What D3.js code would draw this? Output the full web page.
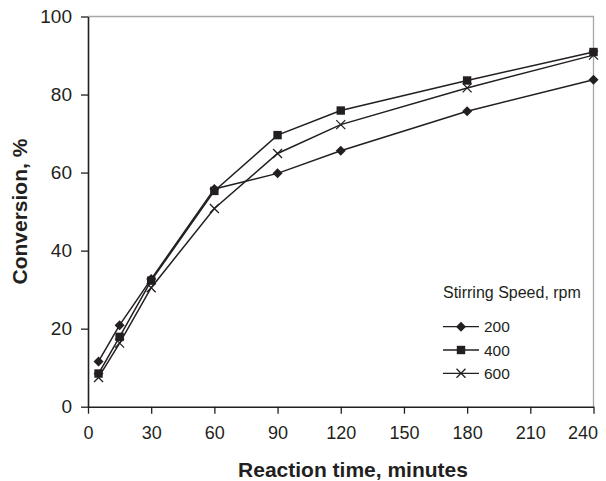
<!DOCTYPE html>
<html><head><meta charset="utf-8">
<script src="https://cdn.jsdelivr.net/npm/d3@7"></script>
<style>body{margin:0;background:#fff}svg{display:block}text{font-family:Arial,"Liberation Sans",sans-serif;fill:#231f20}</style>
</head><body><svg id="c" width="606" height="481"></svg>
<script>
const times = [5, 15, 30, 60, 90, 120, 180, 240];
const rpm200 = [11.6, 20.9, 32.7, 55.8, 59.8, 65.6, 75.7, 83.8];
const rpm400 = [8.5, 17.9, 32.3, 55.3, 69.6, 75.9, 83.6, 90.9];
const rpm600 = [7.5, 16.3, 30.5, 50.8, 64.9, 72.3, 81.7, 90.1];
const seriesNames = ["200", "400", "600"];
const xTicks = [0, 30, 60, 90, 120, 150, 180, 210, 240];
const yTicks = [0, 20, 40, 60, 80, 100];

const series = [
  {name: seriesNames[0], values: rpm200, marker: "diamond"},
  {name: seriesNames[1], values: rpm400, marker: "square"},
  {name: seriesNames[2], values: rpm600, marker: "cross"}
];

const svg = d3.select("#c");
const L = 88, R = 593.5, T = 16.5, B = 406.7;
const x = d3.scaleLinear().domain([0, 240]).range([L, R]);
const y = d3.scaleLinear().domain([0, 100]).range([B, T]);
const ink = "#231f20";

// frame top/right (grey)
svg.append("path").attr("d", `M${L},${T}H${R}V${B}`).attr("fill","none").attr("stroke","#a6a6a6").attr("stroke-width",1.3);

const xa = svg.append("g").attr("transform", `translate(0,${B})`)
  .call(d3.axisBottom(x).tickValues(xTicks).tickSize(7).tickSizeOuter(0).tickPadding(13));
const ya = svg.append("g").attr("transform", `translate(${L},0)`)
  .call(d3.axisLeft(y).tickValues(yTicks).tickSize(7).tickSizeOuter(0).tickPadding(9));
[xa, ya].forEach(a => {
  a.select(".domain").attr("stroke", ink).attr("stroke-width", 1.6);
  a.selectAll(".tick line").attr("stroke", ink).attr("stroke-width", 1.3);
  a.selectAll(".tick text").attr("fill", ink).style("font-family","Arial, 'Liberation Sans', sans-serif");
});
ya.selectAll(".tick text").attr("font-size", 19);
xa.selectAll(".tick text").attr("font-size", 18);
// keep last x label inside the picture
xa.selectAll(".tick text").filter(d => d === 240).attr("text-anchor", "end").attr("x", 4);

svg.append("text").attr("x", 353).attr("y", 476.5).attr("text-anchor","middle")
  .attr("font-size", 21).attr("font-weight","bold").text("Reaction time, minutes");
svg.append("text").attr("transform", `translate(27,${(T+B)/2}) rotate(-90)`).attr("text-anchor","middle")
  .attr("font-size", 21).attr("font-weight","bold").text("Conversion, %");

const line = d3.line().x((d,i) => x(times[i])).y(d => y(d));

function drawMarker(g, type, cx, cy) {
  if (type === "diamond") {
    g.append("path").attr("d", `M${cx},${cy-5}L${cx+5},${cy}L${cx},${cy+5}L${cx-5},${cy}Z`).attr("fill", ink);
  } else if (type === "square") {
    g.append("rect").attr("x", cx-4.2).attr("y", cy-4.2).attr("width", 8.4).attr("height", 8.4).attr("fill", ink);
  } else {
    const s = 4.5;
    g.append("path").attr("d", `M${cx-s},${cy-s}L${cx+s},${cy+s}M${cx-s},${cy+s}L${cx+s},${cy-s}`).attr("stroke", ink).attr("stroke-width", 1.3);
  }
}

series.forEach(s => {
  svg.append("path").datum(s.values).attr("d", line).attr("fill","none").attr("stroke", ink).attr("stroke-width", 1.5);
  const g = svg.append("g");
  s.values.forEach((v,i) => drawMarker(g, s.marker, x(times[i]), y(v)));
});

// legend
svg.append("text").attr("x", 443).attr("y", 298).attr("font-size", 16).text("Stirring Speed, rpm");
const ly = [326.7, 350, 373.3];
series.forEach((s,i) => {
  const g = svg.append("g");
  g.append("line").attr("x1", 443).attr("x2", 479).attr("y1", ly[i]).attr("y2", ly[i]).attr("stroke", ink).attr("stroke-width", 1.3);
  drawMarker(g, s.marker, 461, ly[i]);
  g.append("text").attr("x", 484).attr("y", ly[i] + 5.5).attr("font-size", 15.5).text(s.name);
});
</script></body></html>
